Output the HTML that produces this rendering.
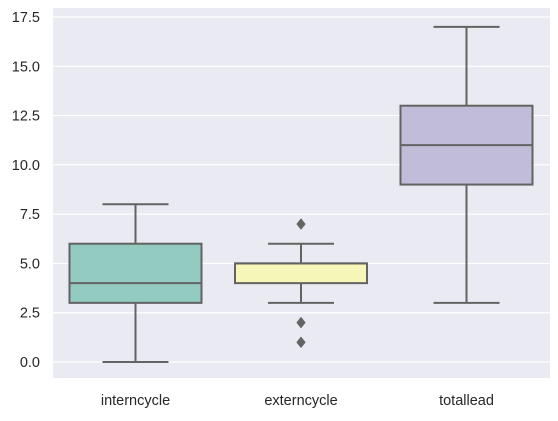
<!DOCTYPE html>
<html><head><meta charset="utf-8"><style>
body{margin:0;background:#fff;}
svg text{font-family:"Liberation Sans","DejaVu Sans",sans-serif;fill:#262626;font-size:14.5px;}
</style></head><body>
<svg id="chart" width="558" height="416">
<rect x="53" y="8" width="497" height="370" fill="#eaeaf2"/>
<g id="grid"></g><g id="yticks"></g><g id="boxes"></g><g id="xticks"></g>
</svg>
<script>
const categories=["interncycle","externcycle","totallead"];
const whiskerLow=[0,3,3];
const q1=[3,4,9];
const medians=[4,5,11];
const q3=[6,5,13];
const whiskerHigh=[8,6,17];
const outliers=[[],[7,2,1],[]];
const yTicks=[0,2.5,5,7.5,10,12.5,15,17.5];
const colors=["#94cbc0","#f6f6b9","#c1bcd9"];
const NS="http://www.w3.org/2000/svg";
function y(v){return 362-v*19.714;}
function x(i){return 135.5+165.5*i;}
const bw=132;
function mk(tag,attrs,parent){const e=document.createElementNS(NS,tag);for(const k in attrs)e.setAttribute(k,attrs[k]);document.getElementById(parent).appendChild(e);return e;}
yTicks.forEach(t=>{
 const g=mk('line',{x1:53,x2:550,y1:y(t),y2:y(t),stroke:'#fff','stroke-width':1.2},'grid');
 
 
 const l=mk('text',{x:40,y:y(t)+5,'text-anchor':'end'},'yticks');
 l.textContent=t.toFixed(1);
 
 
});
categories.forEach((c,i)=>{
 const cx=x(i),st='#636363',sw=2;
 const w1=mk('line',{x1:cx,x2:cx,y1:y(whiskerLow[i]),y2:y(q1[i]),stroke:st,'stroke-width':sw},'boxes');
 
 
 const w2=mk('line',{x1:cx,x2:cx,y1:y(q3[i]),y2:y(whiskerHigh[i]),stroke:st,'stroke-width':sw},'boxes');
 
 
 [whiskerLow[i],whiskerHigh[i]].forEach(v=>{
  const cap=mk('line',{x1:cx-bw/4,x2:cx+bw/4,y1:y(v),y2:y(v),stroke:st,'stroke-width':sw},'boxes');
  
  
 });
 const b=mk('rect',{x:cx-bw/2,y:y(q3[i]),width:bw,height:y(q1[i])-y(q3[i]),fill:colors[i],stroke:st,'stroke-width':sw},'boxes');
 
 
 const m=mk('line',{x1:cx-bw/2,x2:cx+bw/2,y1:y(medians[i]),y2:y(medians[i]),stroke:st,'stroke-width':sw},'boxes');
 
 
 outliers[i].forEach(v=>{
  const o=mk('path',{d:`M${cx} ${y(v)-5}L${cx+4} ${y(v)}L${cx} ${y(v)+5}L${cx-4} ${y(v)}Z`,fill:'#636363',stroke:'#636363','stroke-width':1,'stroke-linejoin':'round'},'boxes');
  
  
 });
 const t=mk('text',{x:cx,y:405,'text-anchor':'middle'},'xticks');
 t.textContent=c;
 
 
});
</script>
</body></html>
